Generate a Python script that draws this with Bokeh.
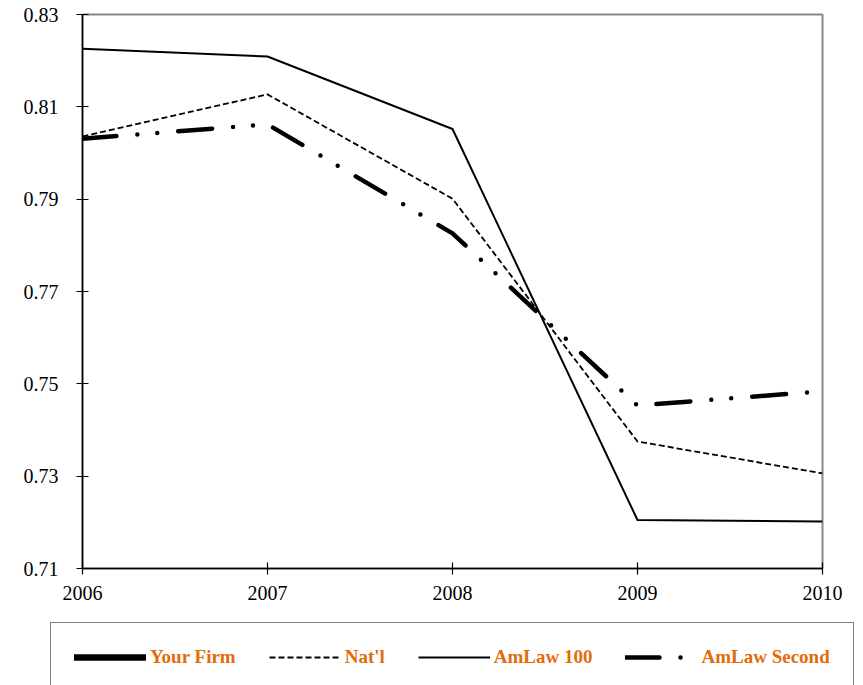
from bokeh.plotting import figure
from bokeh.models import Range1d, FixedTicker, Legend, LegendItem, PrintfTickFormatter
from bokeh.embed import file_html
from bokeh.resources import INLINE

years = [2006, 2007, 2008, 2009, 2010]
your_firm = []  # no values plotted, legend entry only
natl = [0.8036, 0.8127, 0.7901, 0.7375, 0.7306]
amlaw_100 = [0.8226, 0.8209, 0.8052, 0.7205, 0.7202]
amlaw_second = [0.8031, 0.8062, 0.7826, 0.7453, 0.7484]
y_ticks = [0.71, 0.73, 0.75, 0.77, 0.79, 0.81, 0.83]
labels = ["Your Firm", "Nat'l", "AmLaw 100", "AmLaw Second"]

styles = [
    dict(line_color="black", line_width=6.5, line_cap="round"),
    dict(line_color="black", line_width=1.8, line_dash="6 3"),
    dict(line_color="black", line_width=2, line_join="round"),
    dict(line_color="black", line_width=4.5, line_dash="34 21 0 20 0 21",
         line_cap="round", line_join="round"),
]

p = figure(width=863, height=620, output_backend="svg", toolbar_location=None,
           x_range=Range1d(2006, 2010), y_range=Range1d(0.71, 0.83),
           min_border_left=82, min_border_right=41, min_border_top=14,
           min_border_bottom=52)
p.xgrid.visible = False
p.ygrid.visible = False
p.outline_line_color = "#878787"
p.outline_line_width = 2
p.background_fill_color = "white"
p.border_fill_color = "white"

for ax in (p.xaxis[0], p.yaxis[0]):
    ax.axis_line_color = "black"
    ax.axis_line_width = 1.5
    ax.major_tick_line_color = "black"
    ax.major_tick_line_width = 1.2
    ax.major_tick_in = 6
    ax.major_tick_out = 6
    ax.minor_tick_line_color = None
    ax.major_label_text_font = "Liberation Serif"
    ax.major_label_text_font_size = "20px"
    ax.major_label_text_color = "black"

p.xaxis.ticker = FixedTicker(ticks=years)
p.xaxis.major_label_standoff = 11
p.yaxis.ticker = FixedTicker(ticks=y_ticks)
p.yaxis.formatter = PrintfTickFormatter(format="%.2f")
p.yaxis.major_label_standoff = 18

series = [your_firm, natl, amlaw_100, amlaw_second]
for vals, st in zip(series, styles):
    if vals:
        p.line(x=years, y=vals, **st)

# legend panel below the chart (separate root so its frame spans the full width)
lf = figure(width=863, height=65, output_backend="svg", toolbar_location=None,
            x_axis_type=None, y_axis_type=None, min_border=0,
            min_border_left=0, min_border_right=0, min_border_top=0, min_border_bottom=0,
            x_range=Range1d(0, 1), y_range=Range1d(0, 1))
lf.xgrid.visible = False
lf.ygrid.visible = False
lf.outline_line_color = None
lf.background_fill_color = "white"
lf.border_fill_color = "white"

items = []
for lab, st in zip(labels, styles):
    # legend-only renderer: a single missing point, nothing visible
    r = lf.line(x=[float("nan")], y=[float("nan")], **st)
    items.append(LegendItem(label=lab, renderers=[r]))

legend = Legend(items=items, orientation="horizontal", location=(50, -7))
legend.label_text_font = "Liberation Serif"
legend.label_text_font_style = "bold"
legend.label_text_font_size = "19px"
legend.label_text_color = "#E36C0A"
legend.glyph_width = 72
legend.glyph_height = 20
legend.label_height = 20
legend.label_standoff = 4
legend.spacing = 33
legend.padding = 23
legend.margin = 0
legend.border_line_color = "black"
legend.border_line_width = 1.2
legend.background_fill_color = "white"
legend.background_fill_alpha = 1
lf.add_layout(legend, "center")

open("out.html", "w").write(file_html([p, lf], INLINE))
